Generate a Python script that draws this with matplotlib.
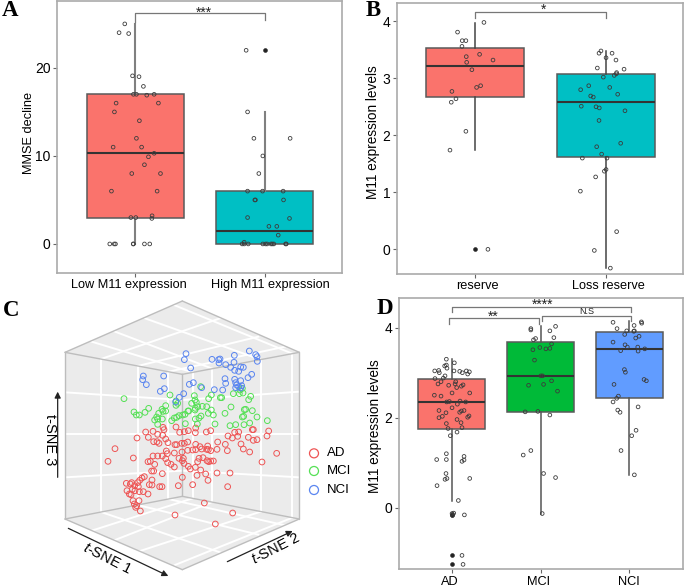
import matplotlib
matplotlib.use('Agg')
import matplotlib.pyplot as plt
from matplotlib.transforms import ScaledTranslation

plt.rcParams['font.family'] = ['Liberation Sans', 'DejaVu Sans']
plt.rcParams['mathtext.fontset'] = 'custom'
plt.rcParams['mathtext.it'] = 'Liberation Sans:italic'
plt.rcParams['mathtext.rm'] = 'Liberation Sans'

# ==============================================================
# DATA
# ==============================================================

# panel A
a_labels = ['Low M11 expression', 'High M11 expression']
a_low_jit = [-.08, -.124, -.05, -.02, .03, .064, -.013, .01, .09, .147, -.147, .18, -.16, .033, .01, -.17, .05,
             .147, .103, .072, -.026, .196, -.183, .17, -.033, .005, .131, .129, -.196, -.162, -.152, -.015,
             -.013, .072, .113]
a_low_val = [25, 24, 23.9, 19.1, 19, 17.9, 17, 17, 16.9, 17, 16, 16, 15, 14, 12, 11, 11,
             10.3, 9.9, 9, 8, 8, 6, 6, 3, 3, 3.2, 2.9, 0, 0, 0, 0,
             0, 0, 0]
a_high_jit = [-.142, -.131, -.082, .198, -.013, -.044, -.131, -.015, .144, -.075, -.07, .147, -.131, .193, .034,
              .095, .106, -.157, -.173, -.157, -.126, -.013, .008, .02, .05, .06, .072, .168, .163]
a_high_val = [22, 15, 12, 12, 10, 8, 6, 6, 6, 5, 5, 5, 3, 2.9, 2,
              2, 1, 0.2, 0, 0, 0, 0, 0, 0, 0, 0, 0, 0, 0]
a_q1 = [3, 0]
a_med = [10.3, 1.5]
a_q3 = [17, 6]
a_lo = [0, 0]
a_hi = [25, 15]
a_out = [[], [22]]

# panel B
b_labels = ['reserve', 'Loss reserve']
b_res_jit = [.0665, -.136, -.1, -.072, -.102, .033, -.069, .136, -.066, -.026, .041, .01, -.179, -.148, -.184,
             -.072, -.194, .097]
b_res_val = [3.98, 3.81, 3.66, 3.66, 3.56, 3.42, 3.38, 3.32, 3.28, 3.15, 2.87, 2.84, 2.77, 2.64, 2.58,
             2.07, 1.74, 0]
b_loss_jit = [-.036, -.051, .049, .003, .079, -.064, .141, .084, .082, .066, -.018, -.13, .031, -.192, .092, -.115,
              -.095, -.187, -.074, -.049, .148, -.051, -.069, .115, -.031, -.179, .01, .003, -.01, -.077, -.194,
              .084, -.087, .036]
b_loss_val = [3.48, 3.44, 3.44, 3.36, 3.32, 3.18, 3.16, 3.1, 3.08, 3.05, 3.02, 2.87, 2.84, 2.8, 2.72, 2.69,
              2.67, 2.51, 2.5, 2.48, 2.43, 2.26, 1.8, 1.86, 1.67, 1.6, 1.6, 1.4, 1.37, 1.27, 1.02,
              .31, -.02, -.33]
b_q1 = [2.67, 1.62]
b_med = [3.22, 2.59]
b_q3 = [3.53, 3.08]
b_lo = [1.74, -.33]
b_hi = [3.97, 3.48]
b_out = [[0], []]

# panel C, projected position of each point on the picture of the cube
c_ad_x = [324, 345, 400, 411, 437, 459, 489, 492, 528, 539, 553, 565, 587, 586, 619, 632, 445, 473, 488, 461, 471,
          477, 497, 504, 525, 530, 545, 553, 563, 587, 600, 623, 653, 684, 697, 704, 716, 713, 745, 757, 760, 760,
          771, 806, 801, 830, 786, 723, 730, 749, 682, 676, 651, 632, 620, 625, 605, 587, 578, 563, 546, 523, 499,
          502, 459, 473, 487, 497, 444, 451, 503, 513, 523, 537, 550, 547, 552, 565, 571, 586, 597, 593, 609, 621,
          626, 632, 640, 602, 617, 591, 651, 690, 624, 578, 535, 547, 487, 455, 461, 464, 456, 433, 426, 419, 413,
          395, 379, 391, 404, 415, 381, 397, 388, 393, 405, 418, 430, 448, 456, 479, 486, 444, 399, 417, 403, 410,
          407, 421, 683, 613, 698, 525, 646]
c_ad_y = [499, 461, 489, 429, 411, 409, 397, 404, 396, 412, 410, 407, 399, 413, 411, 407, 427, 418, 421, 440, 440,
          445, 432, 443, 449, 449, 445, 445, 441, 448, 455, 453, 441, 423, 429, 412, 411, 424, 427, 404, 404, 436,
          434, 408, 423, 475, 501, 447, 462, 471, 467, 448, 463, 467, 463, 464, 462, 464, 465, 466, 471, 474, 468,
          476, 483, 483, 483, 491, 500, 499, 503, 508, 516, 490, 490, 497, 505, 514, 522, 517, 490, 500, 488, 497,
          500, 498, 498, 525, 537, 541, 534, 534, 556, 569, 572, 547, 536, 528, 528, 508, 555, 545, 549, 556, 563,
          563, 565, 567, 572, 575, 587, 583, 597, 599, 587, 590, 590, 569, 570, 575, 575, 597, 617, 617, 627, 632,
          637, 648, 575, 624, 654, 660, 687]
c_mci_x = [372, 402, 409, 418, 435, 446, 470, 464, 473, 487, 476, 489, 497, 486, 497, 473, 510, 528, 528, 533, 515,
           523, 530, 537, 548, 555, 564, 566, 585, 586, 575, 585, 589, 593, 607, 620, 634, 640, 625, 603, 597, 586,
           592, 556, 583, 602, 626, 634, 661, 665, 675, 693, 645, 690, 707, 727, 731, 733, 737, 757, 771, 749, 732,
           802, 746, 752, 700, 718, 729, 727, 720]
c_mci_y = [311, 351, 360, 360, 352, 340, 366, 375, 372, 372, 355, 349, 332, 343, 348, 388, 300, 318, 331, 325, 377,
           369, 367, 362, 360, 358, 348, 348, 345, 340, 325, 315, 322, 335, 334, 335, 345, 360, 355, 363, 369, 372,
           387, 386, 302, 275, 311, 300, 308, 308, 355, 336, 387, 392, 389, 366, 364, 344, 343, 347, 366, 384, 389,
           377, 314, 304, 296, 296, 294, 280, 285]
c_nci_x = [558, 553, 572, 636, 656, 660, 657, 677, 692, 702, 703, 704, 716, 722, 730, 748, 767, 771, 772, 755, 744,
           675, 677, 668, 643, 704, 722, 707, 710, 707, 716, 722, 725, 605, 568, 580, 551, 538, 527, 481, 493, 439,
           428, 430, 491]
c_nci_y = [176, 194, 219, 193, 194, 192, 204, 209, 217, 202, 181, 226, 229, 216, 217, 168, 179, 185, 199, 238, 248,
           251, 265, 285, 284, 253, 257, 263, 270, 278, 275, 279, 272, 278, 268, 263, 296, 307, 321, 289, 281, 269,
           254, 243, 243]
c_groups = ['AD', 'MCI', 'NCI']

# panel D
d_labels = ['AD', 'MCI', 'NCI']
d_ad_jit = [-.06, .03, -.06, -.079, -.053, -.191, -.146, -.139, .026, .09, .12, .165, .199, .18, -.075, -.094, -.188,
            -.12, -.154, .045, -.034, .038, .128, .109, .056, .004, .203, -.195, -.12, .094, -.056, -.026, .158, .064,
            .004, -.143, .139, .109, .09, -.064, -.105, -.143, .195, .18, .06, .105, -.06, .116, -.041, .06, -.015,
            -.06, .139, -.169, -.06, .139, .116, -.064, -.053, -.075, .203, -.165, .075, .023, .004, .008, .143,
            .116, .128]
d_ad_val = [3.3, 3.22, 3.17, 3.15, 3.1, 3.04, 3.05, 3.0, 3.04, 3.03, 3.0, 3.04, 3.02, 2.97, 2.93, 2.88, 2.87,
            2.8, 2.75, 2.8, 2.72, 2.75, 2.73, 2.7, 2.67, 2.55, 2.55, 2.5, 2.48, 2.37, 2.35, 2.36, 2.35, 2.3,
            2.22, 2.16, 2.16, 2.15, 2.12, 2.11, 2.03, 2.0, 2.04, 2.01, 1.96, 1.89, 1.87, 1.78, 1.76, 1.68, 1.6,
            1.2, 1.14, 1.07, 1.07, 1.06, 1.03, .76, .65, .63, .65, .49, .16, -.12, -.13, -.17, -.16,
            -1.06, -1.26]
d_mci_jit = [-.109, -.109, .169, .105, .15, -.056, -.079, .124, -.008, -.086, .06, .105, -.068, .004, .023, .124,
             -.135, .034, .191, -.173, -.03, .105, -.109, -.195, .034, .169, .019]
d_mci_val = [3.98, 3.95, 4.03, 3.93, 3.78, 3.76, 3.73, 3.64, 3.56, 3.51, 3.53, 3.54, 3.28, 2.93, 2.93, 2.82,
             2.72, 2.74, 2.59, 2.13, 2.14, 2.06, 1.27, 1.17, .76, .67, -.13]
d_nci_jit = [-.184, .053, .135, .139, -.139, -.03, .056, .049, -.053, .109, .071, -.184, -.049, -.023, .094, .173,
             -.098, .098, -.056, -.045, .165, .191, -.173, -.124, -.143, -.184, -.131, -.105, .098, .075, .026,
             -.094, .056]
d_nci_val = [4.12, 4.05, 4.13, 4.1, 3.98, 3.93, 3.93, 3.92, 3.85, 3.81, 3.77, 3.68, 3.62, 3.57, 3.57, 3.53,
             3.49, 3.48, 3.07, 3.01, 2.85, 2.82, 2.74, 2.48, 2.43, 2.35, 2.17, 2.12, 2.24, 1.72, 1.6,
             1.27, .73]
d_q1 = [1.74, 2.12, 2.44]
d_med = [2.35, 2.92, 3.52]
d_q3 = [2.87, 3.69, 3.9]
d_lo = [.16, -.13, .73]
d_hi = [3.3, 4.03, 4.15]
d_out = [[-.13, -.17, -1.06, -1.26], [], []]

# ==============================================================
# HELPERS
# ==============================================================

W, H = 685, 587
RED, TEAL, GREEN, BLUE = '#FA736C', '#00BFC4', '#00BA38', '#619CFF'
GREY = '#aaaaaa'

fig = plt.figure(figsize=(W / 100, H / 100), dpi=100)


def make_axes(left, top, right, bottom):
    return fig.add_axes([left / W, 1 - bottom / H, (right - left) / W, (bottom - top) / H])


def box_panel(ax, labels, q1, med, q3, lo, hi, out, colors, whisker, ylabel, yticks, xlim, ylim, label_pos, xpad,
              shifts, label_size=9.8):
    stats = []
    for i in range(len(labels)):
        stats.append({'q1': q1[i], 'med': med[i], 'q3': q3[i], 'whislo': lo[i], 'whishi': hi[i], 'fliers': out[i]})
    pos = list(range(1, len(labels) + 1))
    parts = ax.bxp(stats, positions=pos, widths=0.75, patch_artist=True, showcaps=False,
                   boxprops={'edgecolor': '#5a5a5a', 'linewidth': 1.1},
                   medianprops={'color': '#333333', 'linewidth': 1.5},
                   whiskerprops={'color': whisker[0], 'linewidth': whisker[1]},
                   flierprops={'marker': 'o', 'markersize': 2.8, 'markerfacecolor': '#222222',
                               'markeredgecolor': '#222222', 'markeredgewidth': 0.4})
    for patch, c in zip(parts['boxes'], colors):
        patch.set_facecolor(c)
    ax.set_xticks(pos, labels, fontsize=9.2)
    ax.set_yticks(yticks)
    ax.tick_params(axis='y', labelsize=10, length=3, color='#666666', pad=2)
    ax.tick_params(axis='x', length=3, color='#666666', pad=xpad)
    # the labels sit a little off their ticks in the original
    for lab, dx in zip(ax.get_xticklabels(), shifts):
        lab.set_transform(lab.get_transform() + ScaledTranslation(dx / 100, 0, fig.dpi_scale_trans))
    ax.set_ylabel(ylabel, fontsize=label_size)
    ax.yaxis.set_label_coords(*label_pos)
    ax.set_xlim(xlim)
    ax.set_ylim(ylim)
    for s in ax.spines.values():
        s.set_color(GREY)
        s.set_linewidth(1.2)


def dots(ax, center, jit, val):
    xs = [center + j for j in jit]
    ax.scatter(xs, val, s=7, facecolors='none', edgecolors='#3c3c3c', linewidths=0.6, zorder=5)


def bracket(ax, x0, x1, y, drop0, drop1, label, tx, ty, size=10):
    ax.plot([x0, x0, x1, x1], [y - drop0, y, y, y - drop1], color='#777777', lw=0.9, zorder=6)
    ax.text(tx, ty, label, ha='center', va='center', fontsize=size, color='#222222')


# ==============================================================
# A
# ==============================================================
ax = make_axes(57.5, 1, 341.5, 273)
box_panel(ax, a_labels, a_q1, a_med, a_q3, a_lo, a_hi, a_out, [RED, TEAL], ('#808080', 1.5),
          'MMSE decline', [0, 10, 20], (0.40, 2.595), (-3.3, 27.6), (-0.079, 0.515), 1, (-6.5, 6), label_size=9.2)
dots(ax, 1, a_low_jit, a_low_val)
dots(ax, 2, a_high_jit, a_high_val)
bracket(ax, 1, 2, 26.2, 1.0, 0.8, '***', 1.535, 26.3)

# ==============================================================
# B
# ==============================================================
ax = make_axes(397.3, 2.7, 683, 274)
box_panel(ax, b_labels, b_q1, b_med, b_q3, b_lo, b_hi, b_out, [RED, TEAL], ('#444444', 1.1),
          'M11 expression levels', [0, 1, 2, 3, 4], (0.402, 2.593), (-0.433, 4.326), (-0.06, 0.522), 1, (2, 3))
dots(ax, 1, b_res_jit, b_res_val)
dots(ax, 2, b_loss_jit, b_loss_val)
bracket(ax, 1, 2, 4.17, 0.12, 0.12, '*', 1.52, 4.2)

# ==============================================================
# C
# ==============================================================
ax = fig.add_axes([0, 0, 345 / W, 292 / H])
ax.set_xlim(0, 1035)
ax.set_ylim(876, 0)
ax.axis('off')

UL, T, UR = (195, 172), (547, 18), (898, 172)
LL, B, LR = (195, 672), (547, 824), (898, 672)
BT, BB = (547, 238), (547, 604)
for pane in ([UL, BT, BB, LL], [BT, UR, LR, BB], [LL, BB, LR, B], [UL, T, UR, BT]):
    ax.fill(*zip(*pane), color='#ebebeb', lw=0, zorder=1)

white = [
    # left wall
    ((303, 192), (303, 651)), ((413, 213), (413, 630)), ((505, 230), (505, 612)),
    ((195, 292), (547, 315)), ((195, 418), (547, 418)), ((195, 547), (547, 527)),
    # right wall
    ((578, 232), (578, 610)), ((637, 221), (637, 621)), ((782, 194), (782, 650)), ((877, 176), (877, 668)),
    ((547, 315), (898, 290)), ((547, 418), (898, 418)), ((547, 527), (898, 547)),
    # floor
    ((303, 651), (660, 772)), ((413, 630), (775, 719)), ((505, 612), (855, 691)),
    ((578, 610), (275, 707)), ((637, 621), (345, 735)), ((782, 650), (420, 768)), ((877, 668), (525, 810)),
    # top
    ((303, 192), (660, 70)), ((413, 213), (775, 125)), ((505, 230), (855, 155)),
    ((578, 232), (275, 140)), ((637, 221), (340, 108)), ((782, 194), (435, 70)), ((877, 176), (522, 30)),
]
for p0, p1 in white:
    ax.plot([p0[0], p1[0]], [p0[1], p1[1]], color='white', lw=1.4, zorder=2)

for a, b in ((UL, T), (T, UR), (UR, LR), (LR, B), (B, LL), (LL, UL), (UL, BT), (BT, UR), (BT, BB), (LL, BB), (BB, LR)):
    ax.plot([a[0], b[0]], [a[1], b[1]], color='#bdbdbd', lw=1.0, zorder=3, solid_capstyle='round')

c_colors = ['#ee5555', '#55e055', '#5a85f0']
for xs, ys, c in zip((c_ad_x, c_mci_x, c_nci_x), (c_ad_y, c_mci_y, c_nci_y), c_colors):
    ax.scatter(xs, ys, s=17, facecolors='none', edgecolors=c, linewidths=0.7, zorder=4)

for name, c, y in zip(c_groups, c_colors, (475, 528, 585)):
    ax.scatter([942], [y], s=42, facecolors='none', edgecolors=c, linewidths=0.9, zorder=4)
    ax.text(980, y, name, ha='left', va='center', fontsize=9.5)

arrow = {'arrowstyle': '-|>', 'color': '#222222', 'lw': 0.9, 'mutation_scale': 9, 'shrinkA': 0, 'shrinkB': 0}
ax.annotate('', xy=(173, 290), xytext=(173, 547), arrowprops=arrow)
ax.annotate('', xy=(505, 843), xytext=(205, 700), arrowprops=arrow)
ax.annotate('', xy=(878, 708), xytext=(682, 800), arrowprops=arrow)
ax.text(150, 435, 't-SNE 3', rotation=-90, ha='center', va='center', fontsize=10.5)
ax.text(322, 790, r'$\mathit{t}$-SNE 1', rotation=-27, ha='center', va='center', fontsize=10.5)
ax.text(828, 762, r'$\mathit{t}$-SNE 2', rotation=27, ha='center', va='center', fontsize=10.5)

# ==============================================================
# D
# ==============================================================
ax = make_axes(399, 297.7, 682.7, 569.3)
box_panel(ax, d_labels, d_q1, d_med, d_q3, d_lo, d_hi, d_out, [RED, GREEN, BLUE], ('#555555', 1.1),
          'M11 expression levels', [0, 2, 4], (0.407, 3.6), (-1.369, 4.667), (-0.06, 0.526), 2, (-2, -1.5, -1))
dots(ax, 1, d_ad_jit, d_ad_val)
dots(ax, 2, d_mci_jit, d_mci_val)
dots(ax, 3, d_nci_jit, d_nci_val)
bracket(ax, 1, 3.015, 4.46, 0.12, 0.12, '****', 2.02, 4.5)
bracket(ax, 0.97, 1.98, 4.21, 0.12, 0.12, '**', 1.47, 4.24)
bracket(ax, 2.02, 3.015, 4.27, 0.13, 0.13, 'N.S', 2.52, 4.35, size=6.5)

# ==============================================================
# PANEL LETTERS
# ==============================================================
for letter, x, y in (('A', 2, 11), ('B', 366, 10), ('C', 3, 311), ('D', 377, 308)):
    fig.text(x / W, 1 - y / H, letter, family='Liberation Serif', fontweight='bold', fontsize=16.5,
             ha='left', va='center')

fig.savefig('out.png', dpi=100)
